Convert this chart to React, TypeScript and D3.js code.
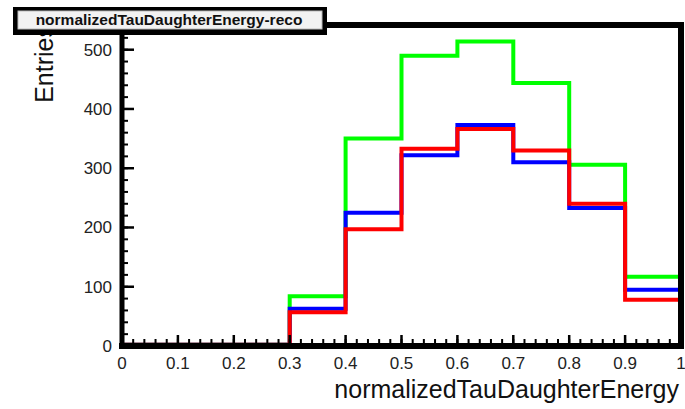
import React from "react";
import * as d3 from "d3";

const binEdges = [0, 0.1, 0.2, 0.3, 0.4, 0.5, 0.6, 0.7, 0.8, 0.9, 1.0];
const greenValues = [2, 2, 2, 84, 350, 490, 514, 444, 306, 117];
const blueValues = [2, 2, 2, 63, 225, 322, 373, 310, 233, 95];
const redValues = [2, 2, 2, 57, 197, 333, 366, 330, 240, 78];
const xTicks = [0, 0.1, 0.2, 0.3, 0.4, 0.5, 0.6, 0.7, 0.8, 0.9, 1];
const xTickLabels = ["0", "0.1", "0.2", "0.3", "0.4", "0.5", "0.6", "0.7", "0.8", "0.9", "1"];
const yTicks = [0, 100, 200, 300, 400, 500];
const title = "normalizedTauDaughterEnergy-reco";
const xTitle = "normalizedTauDaughterEnergy";
const yTitle = "Entries";

const W = 685;
const H = 409;
const x = d3.scaleLinear().domain([0, 1]).range([122, 681]);
const y = d3.scaleLinear().domain([0, 540]).range([346, 26]);

function stepPath(vals: number[]) {
  const pts: [number, number][] = [];
  vals.forEach((v, i) => {
    pts.push([x(binEdges[i]), y(v)]);
    pts.push([x(binEdges[i + 1]), y(v)]);
  });
  return d3.line()(pts) || "";
}

export default function App() {
  const font = "'Liberation Sans', Arial, sans-serif";
  const xMinor = d3.range(0, 1.0001, 0.02);
  const yMinor = d3.range(0, 541, 20);
  return (
    <svg width={W} height={H} style={{ position: "absolute", left: 0, top: 0 }}>
      <rect x={0} y={0} width={W} height={H} fill="#fff" />
      {/* histograms */}
      <path d={stepPath(greenValues)} fill="none" stroke="#00ff00" strokeWidth={4} />
      <path d={stepPath(blueValues)} fill="none" stroke="#0000ff" strokeWidth={4} />
      <path d={stepPath(redValues)} fill="none" stroke="#ff0000" strokeWidth={4} />
      {/* frame */}
      <line x1={122} x2={122} y1={24} y2={349} stroke="#000" strokeWidth={5} />
      <line x1={119} x2={684} y1={346} y2={346} stroke="#000" strokeWidth={6} />
      <line x1={681} x2={681} y1={22} y2={349} stroke="#000" strokeWidth={6} />
      <line x1={120} x2={684} y1={25} y2={25} stroke="#000" strokeWidth={6} />
      {/* x ticks */}
      {xMinor.map((t, i) => (
        <line key={"xm" + i} x1={x(t)} x2={x(t)} y1={343} y2={339} stroke="#000" strokeWidth={2} />
      ))}
      {xTicks.map((t, i) => (
        <line key={"xM" + i} x1={x(t)} x2={x(t)} y1={343} y2={335} stroke="#000" strokeWidth={2.5} />
      ))}
      {xTicks.map((t, i) => (
        <text key={"xl" + i} x={x(t)} y={369} textAnchor="middle" fontFamily={font} fontSize={17} fill="#222">
          {xTickLabels[i]}
        </text>
      ))}
      {/* y ticks */}
      {yMinor.map((t, i) => (
        <line key={"ym" + i} x1={124} x2={128} y1={y(t)} y2={y(t)} stroke="#000" strokeWidth={2} />
      ))}
      {yTicks.map((t, i) => (
        <line key={"yM" + i} x1={124} x2={134} y1={y(t)} y2={y(t)} stroke="#000" strokeWidth={2.5} />
      ))}
      {yTicks.map((t, i) => (
        <text key={"yl" + i} x={112} y={y(t) + 6} textAnchor="end" fontFamily={font} fontSize={17} fill="#222">
          {t}
        </text>
      ))}
      {/* axis titles */}
      <text x={679} y={398} textAnchor="end" fontFamily={font} fontSize={25} fill="#111">
        {xTitle}
      </text>
      <text
        transform="translate(53,25) rotate(-90)"
        textAnchor="end"
        fontFamily={font}
        fontSize={25}
        fill="#111"
      >
        {yTitle}
      </text>
      {/* title box */}
      <rect x={13} y={7} width={314} height={28} fill="#000" />
      <rect x={18} y={11} width={304} height={18} fill="#f2f2f2" stroke="#bbb" strokeWidth={1} />
      <text x={169} y={25} textAnchor="middle" fontFamily={font} fontWeight="bold" fontSize={15.5} fill="#111">
        {title}
      </text>
    </svg>
  );
}
